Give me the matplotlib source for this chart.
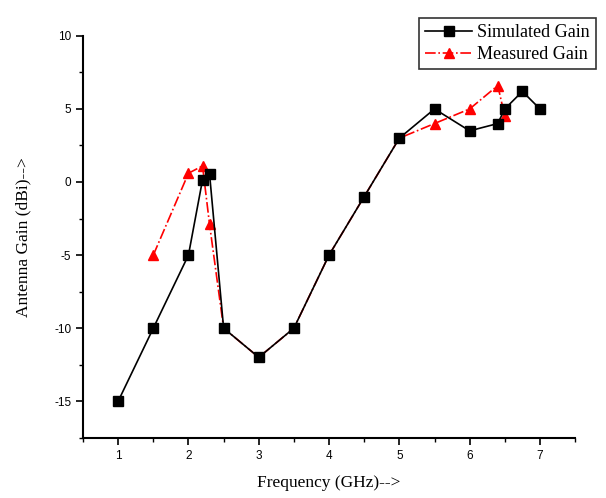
import matplotlib
matplotlib.use("Agg")
import matplotlib.pyplot as plt
from matplotlib.ticker import MultipleLocator

plt.rcParams["axes.unicode_minus"] = False

sim_freq = [1, 1.5, 2, 2.2, 2.3, 2.5, 3, 3.5, 4, 4.5, 5, 5.5, 6, 6.4, 6.5, 6.75, 7]
sim_gain = [-15, -10, -5, 0.15, 0.55, -10, -12, -10, -5, -1, 3, 5, 3.5, 4, 5, 6.2, 5]

meas_freq = [1.5, 2, 2.2, 2.3, 2.5, 3, 3.5, 4, 4.5, 5, 5.5, 6, 6.4, 6.5]
meas_gain = [-5, 0.6, 1.1, -2.9, -10, -12, -10, -5, -1, 3, 4, 5, 6.6, 4.5]
meas_marked = [0, 1, 2, 3, 10, 11, 12, 13]

xticks = [1, 2, 3, 4, 5, 6, 7]
yticks = [-15, -10, -5, 0, 5, 10]

fig = plt.figure(figsize=(6.06, 4.98), dpi=100)
ax = fig.add_axes([0.137, 0.121, 0.812, 0.807])

ax.plot(meas_freq, meas_gain, color="red", linestyle="-.", linewidth=1.2,
        marker="^", markersize=7.5, markeredgecolor="red", markerfacecolor="red",
        markevery=meas_marked, label="Measured Gain", zorder=2)
ax.plot(sim_freq, sim_gain, color="black", linestyle="-", linewidth=1.2,
        marker="s", markersize=6.5, label="Simulated Gain", zorder=3)

ax.set_xlim(0.5, 7.5)
ax.set_ylim(-17.5, 10)
ax.set_xticks(xticks)
ax.set_yticks(yticks)
ax.xaxis.set_minor_locator(MultipleLocator(0.5))
ax.yaxis.set_minor_locator(MultipleLocator(2.5))
ax.tick_params(which="major", direction="out", length=5, width=1.2, labelsize=8.5)
ax.tick_params(which="minor", direction="out", length=3, width=1)
for lbl in ax.get_xticklabels() + ax.get_yticklabels():
    lbl.set_family("Liberation Sans")

for s in ["top", "right"]:
    ax.spines[s].set_visible(False)
for s in ["left", "bottom"]:
    ax.spines[s].set_linewidth(1.5)

ax.set_xlabel("Frequency (GHz)-->", family="Liberation Serif", fontsize=12.5, labelpad=10)
ax.set_ylabel("Antenna Gain (dBi)-->", family="Liberation Serif", fontsize=12.5, labelpad=16)

h, l = ax.get_legend_handles_labels()
leg = fig.legend(h[::-1], l[::-1], loc="upper right", bbox_to_anchor=(0.999, 0.982),
                 prop={"family": "Liberation Serif", "size": 13},
                 frameon=True, fancybox=False, edgecolor="black",
                 handlelength=2.6, borderpad=0.35, labelspacing=0.25, handletextpad=0.3)
leg.get_frame().set_linewidth(1.2)

fig.savefig("out.png", dpi=100)
